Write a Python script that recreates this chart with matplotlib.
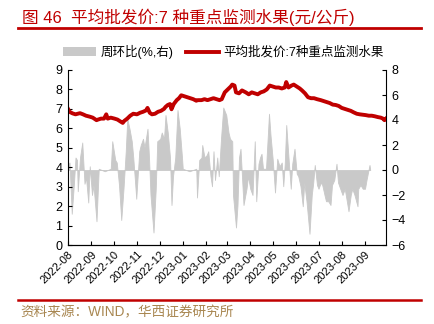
import matplotlib
matplotlib.use("Agg")
import matplotlib.pyplot as plt
import matplotlib.dates as mdates
from matplotlib.patches import Patch
from matplotlib.lines import Line2D
import pandas as pd

plt.rcParams['font.family'] = ['Liberation Sans', 'Noto Sans CJK SC', 'DejaVu Sans']
plt.rcParams['axes.unicode_minus'] = True

# 平均批发价:7种重点监测水果 (元/公斤)
price_dates = [
    "2022-08-01", "2022-08-03", "2022-08-07", "2022-08-11", "2022-08-17", "2022-08-21",
    "2022-08-25", "2022-08-30", "2022-09-03", "2022-09-08", "2022-09-10", "2022-09-14",
    "2022-09-18", "2022-09-21", "2022-09-23", "2022-09-27", "2022-10-02", "2022-10-06",
    "2022-10-10", "2022-10-13", "2022-10-15", "2022-10-19", "2022-10-23", "2022-10-27",
    "2022-11-01", "2022-11-05", "2022-11-09", "2022-11-13", "2022-11-15", "2022-11-18",
    "2022-11-21", "2022-11-25", "2022-11-29", "2022-12-03", "2022-12-07", "2022-12-09",
    "2022-12-12", "2022-12-15", "2022-12-17", "2022-12-20", "2022-12-24", "2022-12-27",
    "2022-12-30", "2023-01-03", "2023-01-07", "2023-01-11", "2023-01-15", "2023-01-19",
    "2023-01-21", "2023-01-26", "2023-01-30", "2023-02-03", "2023-02-07", "2023-02-11",
    "2023-02-15", "2023-02-19", "2023-02-22", "2023-02-26", "2023-03-02", "2023-03-06",
    "2023-03-08", "2023-03-11", "2023-03-13", "2023-03-17", "2023-03-21", "2023-03-26",
    "2023-03-30", "2023-04-03", "2023-04-07", "2023-04-11", "2023-04-15", "2023-04-19",
    "2023-04-23", "2023-04-27", "2023-05-01", "2023-05-05", "2023-05-09", "2023-05-13",
    "2023-05-17", "2023-05-19", "2023-05-22", "2023-05-26", "2023-05-29", "2023-06-02",
    "2023-06-06", "2023-06-09", "2023-06-13", "2023-06-17", "2023-06-21", "2023-06-25",
    "2023-06-29", "2023-07-04", "2023-07-08", "2023-07-12", "2023-07-16", "2023-07-20",
    "2023-07-24", "2023-07-28", "2023-08-01", "2023-08-05", "2023-08-09", "2023-08-13",
    "2023-08-17", "2023-08-21", "2023-08-25", "2023-08-29", "2023-09-02", "2023-09-06",
    "2023-09-10", "2023-09-14", "2023-09-18", "2023-09-22", "2023-09-25", "2023-09-27",
    "2023-09-29",
]
price_values = [
    7.00, 6.85, 6.77, 6.72, 6.78, 6.72,
    6.65, 6.60, 6.55, 6.42, 6.45, 6.50,
    6.50, 6.72, 6.50, 6.55, 6.50, 6.45,
    6.35, 6.28, 6.38, 6.50, 6.65, 6.75,
    6.72, 6.80, 6.85, 6.92, 7.05, 6.80,
    6.72, 6.75, 6.85, 6.90, 7.00, 7.10,
    7.20, 7.25, 6.98, 7.25, 7.45, 7.55,
    7.70, 7.65, 7.60, 7.55, 7.50, 7.42,
    7.45, 7.45, 7.50, 7.45, 7.50, 7.55,
    7.50, 7.45, 7.50, 7.85, 8.00, 8.15,
    8.25, 8.20, 7.85, 7.80, 7.95, 7.85,
    7.75, 7.85, 7.80, 7.75, 7.85, 7.90,
    8.00, 8.20, 8.15, 8.10, 8.10, 8.05,
    8.10, 8.38, 8.10, 8.20, 8.25, 8.15,
    8.05, 7.95, 7.80, 7.60, 7.55, 7.55,
    7.50, 7.45, 7.40, 7.35, 7.30, 7.22,
    7.20, 7.15, 7.05, 7.00, 6.95, 6.90,
    6.82, 6.75, 6.72, 6.70, 6.68, 6.65,
    6.65, 6.62, 6.58, 6.55, 6.50, 6.42,
    6.50,
]

# 周环比 (%, 右轴)
wow_dates = [
    "2022-08-01", "2022-08-03", "2022-08-06", "2022-08-09", "2022-08-11", "2022-08-13",
    "2022-08-14", "2022-08-17", "2022-08-20", "2022-08-23", "2022-08-25", "2022-08-28",
    "2022-08-30", "2022-09-02", "2022-09-04", "2022-09-08", "2022-09-11", "2022-09-19",
    "2022-09-27", "2022-09-29", "2022-10-03", "2022-10-05", "2022-10-08", "2022-10-11",
    "2022-10-14", "2022-10-17", "2022-10-19", "2022-10-22", "2022-10-25", "2022-10-27",
    "2022-10-31", "2022-11-04", "2022-11-06", "2022-11-09", "2022-11-11", "2022-11-15",
    "2022-11-17", "2022-11-19", "2022-11-23", "2022-11-26", "2022-11-28", "2022-12-02",
    "2022-12-04", "2022-12-07", "2022-12-09", "2022-12-12", "2022-12-15", "2022-12-17",
    "2022-12-19", "2022-12-22", "2022-12-25", "2022-12-28", "2022-12-31", "2023-01-01",
    "2023-01-10", "2023-01-19", "2023-01-20", "2023-01-23", "2023-01-26", "2023-01-27",
    "2023-01-30", "2023-02-02", "2023-02-04", "2023-02-07", "2023-02-09", "2023-02-11",
    "2023-02-13", "2023-02-16", "2023-02-18", "2023-02-21", "2023-02-24", "2023-02-28",
    "2023-03-03", "2023-03-05", "2023-03-08", "2023-03-09", "2023-03-13", "2023-03-15",
    "2023-03-17", "2023-03-19", "2023-03-23", "2023-03-27", "2023-03-29", "2023-04-01",
    "2023-04-04", "2023-04-07", "2023-04-09", "2023-04-12", "2023-04-14", "2023-04-16",
    "2023-04-18", "2023-04-22", "2023-04-26", "2023-04-28", "2023-05-01", "2023-05-04",
    "2023-05-07", "2023-05-10", "2023-05-13", "2023-05-15", "2023-05-17", "2023-05-19",
    "2023-05-22", "2023-05-25", "2023-05-27", "2023-05-30", "2023-06-02", "2023-06-04",
    "2023-06-07", "2023-06-10", "2023-06-12", "2023-06-15", "2023-06-19", "2023-06-22",
    "2023-06-24", "2023-06-26", "2023-06-29", "2023-07-01", "2023-07-04", "2023-07-06",
    "2023-07-09", "2023-07-11", "2023-07-14", "2023-07-17", "2023-07-19", "2023-07-22",
    "2023-07-25", "2023-07-27", "2023-07-30", "2023-08-02", "2023-08-05", "2023-08-10",
    "2023-08-13", "2023-08-15", "2023-08-18", "2023-08-22", "2023-08-23", "2023-08-26",
    "2023-08-29", "2023-09-01", "2023-09-03", "2023-09-07", "2023-09-08",
]
wow_values = [
    0.4, 0.6, -3.5, -1.0, 1.0, 0.8,
    -1.7, 1.0, 2.2, -1.1, -0.6, -2.6,
    0.3, -2.0, -1.2, -4.1, 0.1, -0.1,
    0.1, 2.3, 0.8, 0.6, -1.2, -4.0,
    -1.5, 1.5, 4.1, 3.3, 2.3, 1.0,
    -2.3, 1.5, 2.0, 2.5, 1.8, 3.3,
    1.0, -2.0, -5.0, -1.5, 2.3, 2.5,
    3.0, 2.5, 4.4, 3.0, 1.0, -2.8,
    -0.5, 1.0, 4.8, 3.3, 1.0, 0.1,
    -0.1, 0.1, -2.2, 0.8, 1.0, 2.0,
    1.0, 1.2, 1.5, -0.5, -1.3, 1.5,
    -0.8, 1.0, -0.5, 2.5, 5.0, 4.4,
    3.0, 2.5, 2.3, -2.0, -4.6, -2.8,
    1.0, 1.7, -2.8, -1.5, -0.5, -1.5,
    -2.0, 2.3, -2.5, 0.5, 1.0, 1.3,
    0.1, 0.1, 4.5, 2.8, 0.8, -1.8,
    0.9, 0.3, 0.6, -1.3, 0.5, 3.6,
    1.0, -1.5, 0.5, 1.7, -0.3, -0.5,
    -1.3, -2.9, -1.0, -2.5, -5.1, -2.0,
    -1.0, 0.4, -1.2, -1.5, -1.0, -1.2,
    -2.0, -2.5, -2.5, -2.8, -1.2, -0.8,
    0.5, -1.0, -1.5, -2.0, -1.5, -3.3,
    -2.0, -1.5, -2.0, -2.9, -1.5, -1.2,
    -1.5, -1.5, -0.8, 0.4, 0.0,
]

x_ticks = ["2022-08", "2022-09", "2022-10", "2022-11", "2022-12", "2023-01", "2023-02",
           "2023-03", "2023-04", "2023-05", "2023-06", "2023-07", "2023-08", "2023-09"]

title_text = "图 46  平均批发价:7 种重点监测水果(元/公斤)"
source_text = "资料来源：WIND，华西证券研究所"
legend_labels = ["周环比(%,右)", "平均批发价:7种重点监测水果"]

red = "#c00000"
gray = "#c9c9c9"

pdates = pd.to_datetime(price_dates)
wdates = pd.to_datetime(wow_dates)

fig = plt.figure(figsize=(4.34, 3.24), dpi=100)
ax = fig.add_axes([68 / 434, 1 - 245 / 324, (386 - 68) / 434, (245 - 70) / 324])
ax2 = ax.twinx()

ax2.fill_between(wdates, wow_values, 0, color=gray, linewidth=0.6, edgecolor=gray)
ax2.set_ylim(-6, 8)
ax2.set_yticks(range(-6, 9, 2))

ax.plot(pdates, price_values, color=red, linewidth=2.8, solid_joinstyle="round")
ax.set_ylim(0, 9)
ax.set_yticks(range(0, 10))
ax.set_zorder(ax2.get_zorder() + 1)
ax.patch.set_visible(False)

ax.set_xlim(pdates[0], pdates[-1])
ax.set_xticks(pd.to_datetime(x_ticks))
ax.xaxis.set_major_formatter(mdates.DateFormatter("%Y-%m"))
for lbl in ax.get_xticklabels():
    lbl.set_rotation(45)
    lbl.set_ha("right")
    lbl.set_rotation_mode("anchor")

for a in (ax, ax2):
    a.spines["top"].set_visible(False)
    a.tick_params(direction="in", length=3, width=0.8, labelsize=9, pad=4)
ax.spines["right"].set_visible(False)
ax2.spines["left"].set_visible(False)
ax.tick_params(axis="x", labelsize=8, pad=3)

handles = [Patch(facecolor=gray, edgecolor="none"),
           Line2D([0], [0], color=red, linewidth=2.8)]
fig.legend(handles, legend_labels, loc="center", bbox_to_anchor=(0.515, 1 - 52 / 324),
           ncol=2, frameon=False, fontsize=9, handlelength=2.6, columnspacing=1.0,
           handletextpad=0.4)

fig.text(22 / 434, 1 - 17 / 324, title_text, color=red, fontsize=12, va="center", ha="left")
fig.add_artist(Line2D([18 / 434, 421 / 434], [1 - 28 / 324, 1 - 28 / 324],
                      color=red, linewidth=2.0))
fig.add_artist(Line2D([18 / 434, 421 / 434], [1 - 300 / 324, 1 - 300 / 324],
                      color=red, linewidth=1.8))
fig.text(20 / 434, 1 - 312 / 324, source_text, color="#a88650", fontsize=9.8,
         va="center", ha="left")

fig.savefig("out.png", dpi=100)
